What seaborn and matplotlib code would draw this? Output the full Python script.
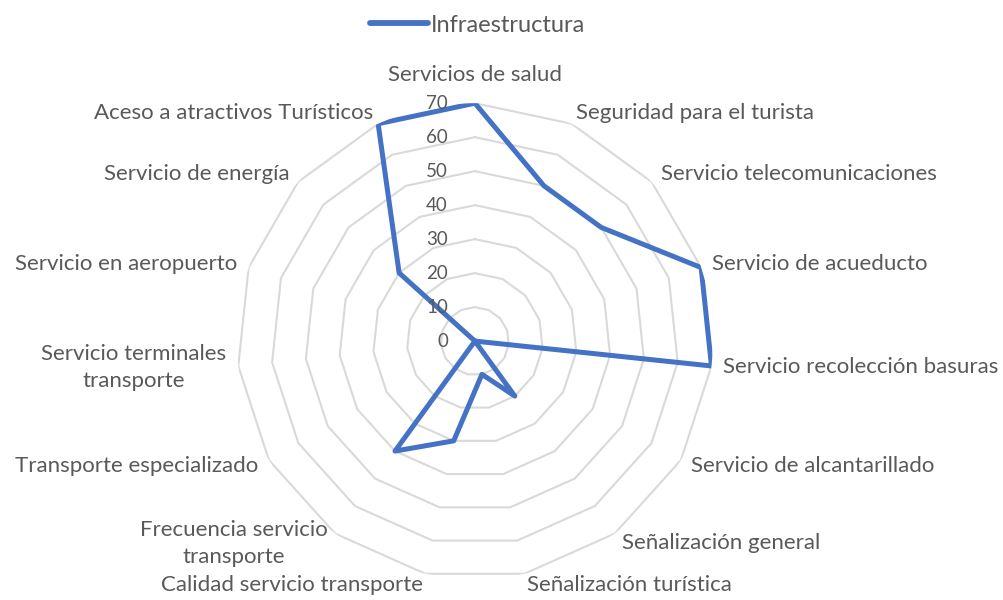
import numpy as np
import pandas as pd
import matplotlib
matplotlib.use("Agg")
import matplotlib.pyplot as plt
import seaborn as sns
from matplotlib import transforms

categories = [
    "Servicios de salud",
    "Seguridad para el turista",
    "Servicio telecomunicaciones",
    "Servicio de acueducto",
    "Servicio recolección basuras",
    "Servicio de alcantarillado",
    "Señalización general",
    "Señalización turística",
    "Calidad servicio transporte",
    "Frecuencia servicio\ntransporte",
    "Transporte especializado",
    "Servicio terminales\ntransporte",
    "Servicio en aeropuerto",
    "Servicio de energía",
    "Aceso a atractivos Turísticos",
]
values = [70, 50, 50, 70, 70, 0, 20, 10, 30, 40, 0, 0, 0, 30, 70]
tick_values = [0, 10, 20, 30, 40, 50, 60, 70]
series_name = "Infraestructura"

LINE_COLOR = "#4472C4"
TEXT_COLOR = "#595959"
GRID_COLOR = "#D9D9D9"
FS_LABEL = 16
FS_TICK = 13.5
FS_LEGEND = 17

sns.set_theme(style="white")
plt.rcParams['font.family'] = ['Lato', 'DejaVu Sans']

fig = plt.figure(figsize=(10.04, 6), dpi=100)
ax = fig.add_axes([0.236, 0.035, 0.474, 0.793], projection='polar')
ax.set_theta_zero_location('N')
ax.set_theta_direction(-1)

n = len(categories)
theta = np.arange(n) * 2 * np.pi / n
theta_closed = np.append(theta, 2 * np.pi)

# polygon gridlines
for t in tick_values[1:]:
    ax.plot(theta_closed, [t] * (n + 1), color=GRID_COLOR, lw=1.5, zorder=1)

df = pd.DataFrame({
    "theta": theta_closed,
    "value": values + values[:1],
})
sns.lineplot(data=df, x="theta", y="value", sort=False, estimator=None,
             ax=ax, color=LINE_COLOR, lw=3.6, label=series_name, zorder=3)

ax.set_ylim(0, max(tick_values))
ax.set_xticks([])
ax.set_yticks([])
ax.grid(False)
ax.spines['polar'].set_visible(False)
ax.set_xlabel("")
ax.set_ylabel("")
ax.patch.set_alpha(0)

# category labels
for cat, th in zip(categories, theta):
    s = np.sin(th)
    if abs(s) < 0.01:
        ha = 'center'
        r = 78.2
    elif s > 0:
        ha = 'left'
        r = 73.5
    else:
        ha = 'right'
        r = 73.5
    ax.text(th, r, cat, ha=ha, va='center', fontsize=FS_LABEL, color=TEXT_COLOR,
            multialignment='center', linespacing=1.42, clip_on=False)

# radial tick labels
off = transforms.offset_copy(ax.transData, fig=fig, x=-27, y=0, units='dots')
for v in tick_values:
    ax.text(0, v, str(v), transform=off, ha='right', va='center',
            fontsize=FS_TICK, color=TEXT_COLOR, clip_on=False)

handles, labels = ax.get_legend_handles_labels()
ax.get_legend().remove()
leg = fig.legend(handles, labels, loc='center', bbox_to_anchor=(0.4756, 0.958),
                 frameon=False, fontsize=FS_LEGEND, handlelength=2.45,
                 handletextpad=0.1, labelcolor=TEXT_COLOR)
for h in leg.legend_handles:
    h.set_linewidth(4.2)

fig.savefig("out.png", dpi=100)
